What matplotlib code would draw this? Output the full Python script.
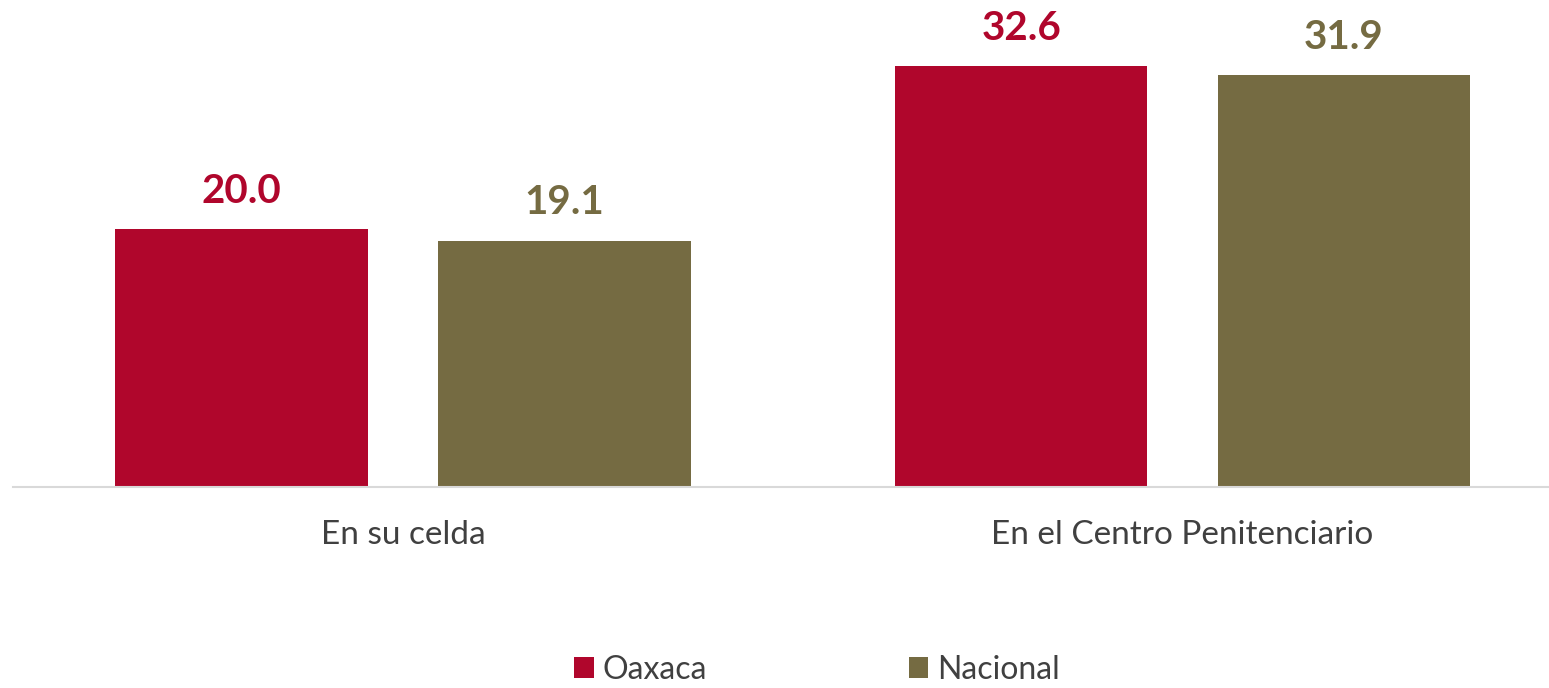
import matplotlib
matplotlib.use("Agg")
import matplotlib.pyplot as plt
import numpy as np

categorias = ["En su celda", "En el Centro Penitenciario"]
oaxaca = [20.0, 32.6]
nacional = [19.1, 31.9]
series = ["Oaxaca", "Nacional"]

rojo = "#B0062C"
olivo = "#756B42"

plt.rcParams["font.family"] = ["Lato", "DejaVu Sans"]

fig = plt.figure(figsize=(15.49, 6.88), dpi=100)
ax = fig.add_axes([13 / 1549, 201 / 688, 1536 / 1549, 464.4 / 688])

x = np.arange(len(categorias))
w = 0.324
off = 0.207
b1 = ax.bar(x - off, oaxaca, w, color=rojo, label=series[0])
b2 = ax.bar(x + off, nacional, w, color=olivo, label=series[1])

for bars, vals, c in [(b1, oaxaca, rojo), (b2, nacional, olivo)]:
    for b, v in zip(bars, vals):
        ax.annotate(f"{v:.1f}", (b.get_x() + b.get_width() / 2, v),
                    xytext=(0, 14), textcoords="offset points",
                    ha="center", va="bottom", fontsize=29, fontweight="bold", color=c)

ax.set_xlim(-0.5, 1.47)
ax.set_ylim(0, 36)
ax.set_xticks(x)
ax.set_xticklabels(categorias, fontsize=24, color="#404040")
ax.tick_params(axis="x", length=0, pad=24)
ax.set_yticks([])
for s in ["top", "right", "left"]:
    ax.spines[s].set_visible(False)
ax.spines["bottom"].set_color("#D9D9D9")
ax.spines["bottom"].set_linewidth(1.5)

fig.legend(handles=[b1, b2], loc="center", bbox_to_anchor=(817 / 1549, 1 - 670 / 688),
           ncol=2, frameon=False, fontsize=23, handlelength=0.62, handleheight=0.62,
           handletextpad=0.28, columnspacing=6.3, labelcolor="#404040")

plt.savefig("out.png", dpi=100)
